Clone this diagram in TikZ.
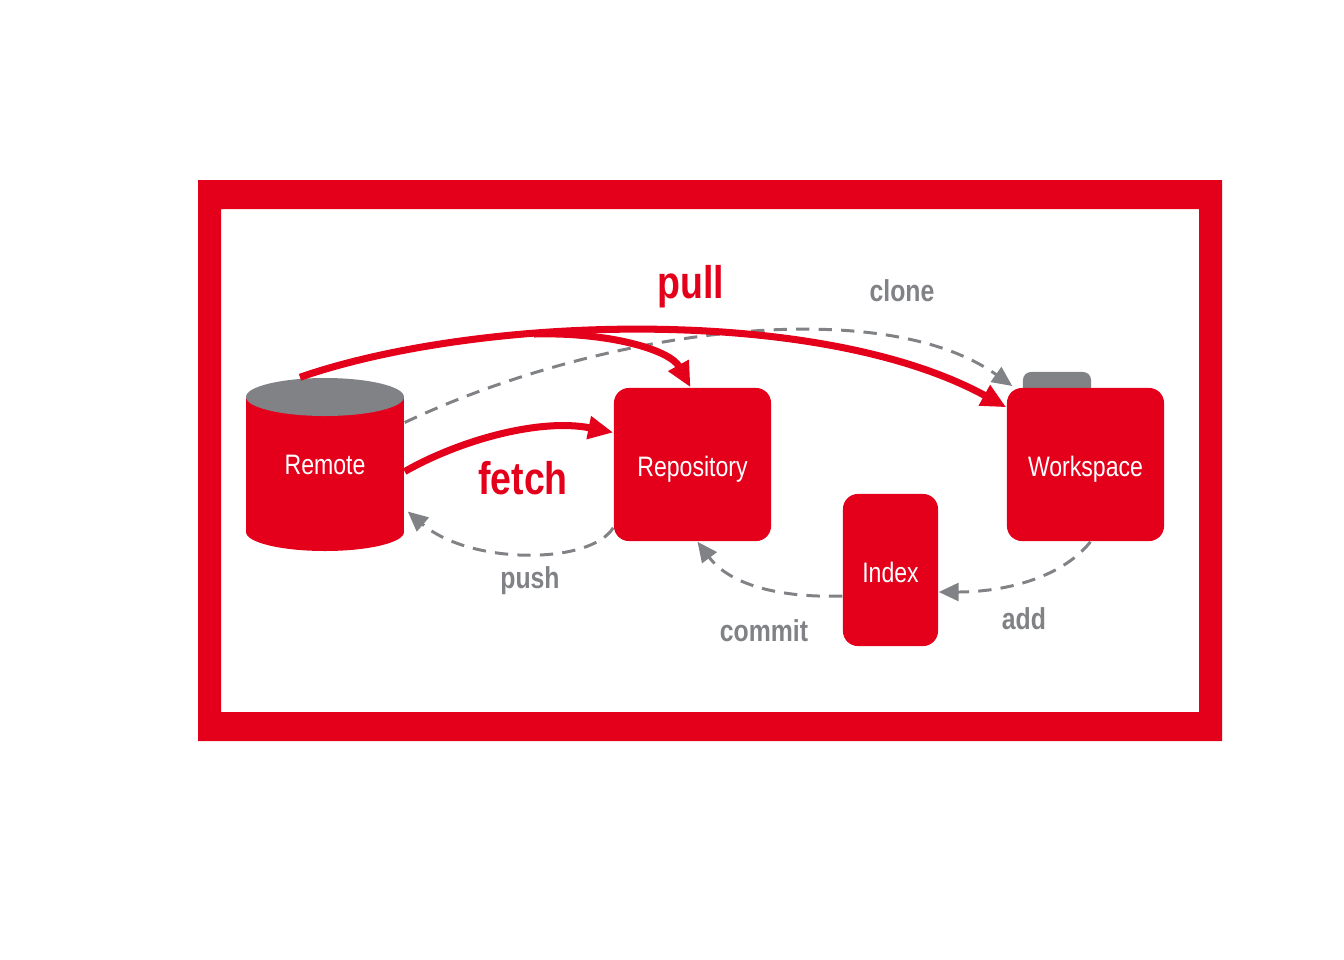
\documentclass[tikz,border=0pt]{standalone}
\usepackage{fontspec}
\setmainfont[FakeStretch=0.82]{Liberation Sans}
\usetikzlibrary{arrows.meta}
\definecolor{gitred}{RGB}{228,0,27}
\definecolor{gitgray}{RGB}{128,130,133}

\begin{document}
\begin{tikzpicture}[x=0.01cm,y=-0.01cm,
  box/.style={fill=gitred,rounded corners=0.15cm,text=white,inner sep=0pt,text height=1.6ex,text depth=0.3ex,font=\fontsize{8}{10}\selectfont},
  redarrow/.style={draw=gitred,line width=2pt,-{Triangle[length=0.25cm,width=0.22cm]}},
  cmdarrow/.style={draw=gitgray,line width=0.85pt,dash pattern=on 3.8pt off 2.6pt,-{Triangle[length=0.2cm,width=0.18cm]}},
  biglabel/.style={text=gitred,font=\bfseries\fontsize{13}{15}\selectfont},
  cmdlabel/.style={text=gitgray,font=\bfseries\fontsize{8.6}{10}\selectfont}]
\useasboundingbox (0,0) rectangle (1344,960);

% Frame
\fill[gitred,even odd rule] (198,180) rectangle (1222,741) (221,209) rectangle (1199,712);

% Remote
\fill[gitred] (246,397) rectangle (404,532);
\fill[gitred] (325,532) ellipse (79 and 19);
\fill[gitgray] (325,397) ellipse (79 and 19);
\node[minimum width=1.58cm,minimum height=1.73cm,inner sep=0pt,text=white,font=\fontsize{8}{10}\selectfont] (remote) at (325,464.5) {Remote};

% Boxes
\node[fill=gitgray,rounded corners=0.08cm,minimum width=0.68cm,minimum height=0.28cm,inner sep=0pt] (tab) at (1057,386) {};
\node[box,minimum width=1.57cm,minimum height=1.53cm] (repo) at (692.5,464.5) {Repository};
\node[box,minimum width=1.57cm,minimum height=1.53cm] (workspace) at (1085.5,464.5) {Workspace};
\node[box,minimum width=0.95cm,minimum height=1.52cm] (index) at (890.5,570) {Index};

% Commands
\draw[cmdarrow] ([yshift=0.42cm]remote.east) .. controls (600,330) and (880,292) .. ([xshift=-0.1cm]tab.west);
\draw[cmdarrow] ([yshift=0.14cm]repo.south west) .. controls (590,565) and (470,565) .. ([xshift=0.03cm,yshift=-0.47cm]remote.east);
\draw[cmdarrow] ([yshift=-0.26cm]index.west) .. controls (780,598) and (730,585) .. ([xshift=0.05cm]repo.south);
\draw[cmdarrow] ([xshift=0.05cm]workspace.south) .. controls (1060,580) and (1000,592) .. ([yshift=-0.22cm]index.east);

% pull and fetch
\coordinate (split) at (534,334);
\draw[redarrow] ([xshift=-0.25cm]remote.north) .. controls (480,315) and (820,305) .. ([yshift=-0.2cm]workspace.north west);
\draw[redarrow] (split) .. controls (610,332) and (670,350) .. ([xshift=-0.02cm]repo.north);
\draw[redarrow] ([yshift=-0.07cm]remote.east) .. controls (460,440) and (540,418) .. ([yshift=0.32cm]repo.west);

% Labels
\node[biglabel] (pulllabel) at (691,287) {pull};
\node[biglabel] (fetchlabel) at (523,478) {fetch};
\node[cmdlabel] (clonelabel) at (902,291) {clone};
\node[cmdlabel] (pushlabel) at (530,581) {push};
\node[cmdlabel] (commitlabel) at (764,631) {commit};
\node[cmdlabel] (addlabel) at (1024,619) {add};
\end{tikzpicture}
\end{document}
